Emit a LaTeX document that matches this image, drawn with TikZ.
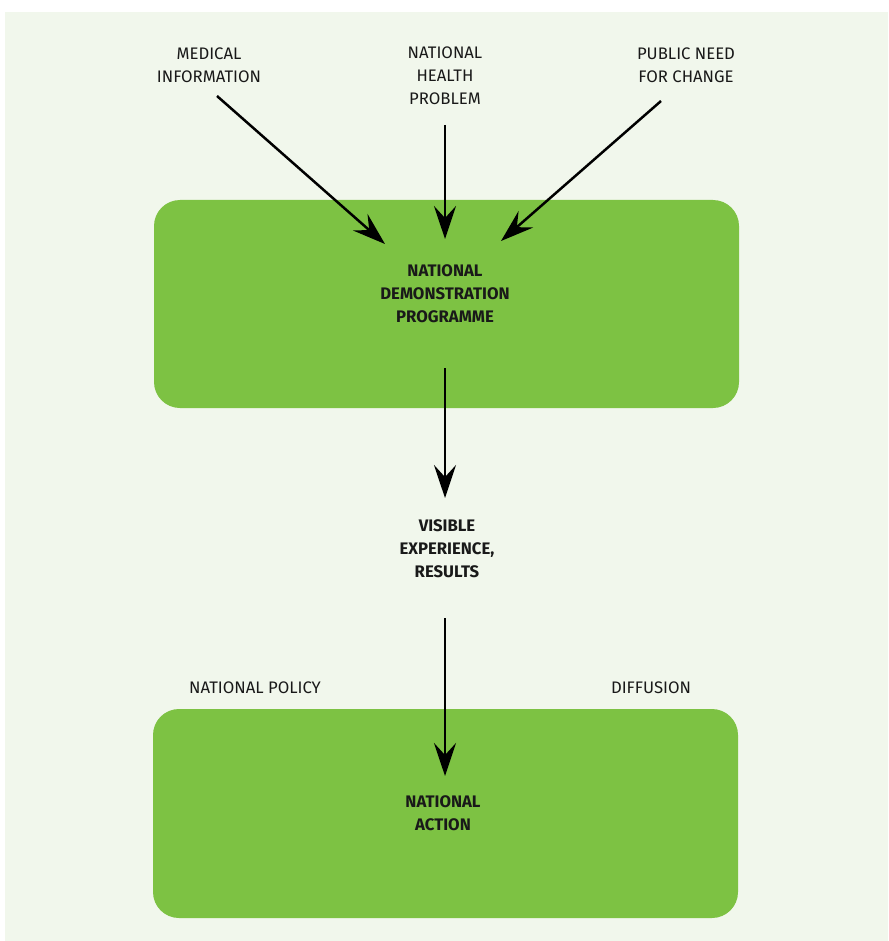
\documentclass[tikz,border=0pt]{standalone}
\usepackage{fontspec}
\setmainfont{Fira Sans}
\usetikzlibrary{arrows.meta}
\definecolor{bgpanel}{HTML}{F1F7EC}
\definecolor{boxgreen}{HTML}{7DC243}
\tikzset{
  lbl/.style={align=center, font=\fontsize{16.7}{23}\selectfont, inner sep=0pt, text=black!90},
  blbl/.style={lbl, font=\fontsize{16.7}{23}\selectfont\bfseries},
  gbox/.style={fill=boxgreen, draw=none, rounded corners=26pt, inner sep=0pt},
  arr/.style={-{Stealth[length=33pt,width=22pt,inset=12pt]}, line width=2.5pt, black},
}
\begin{document}
\begin{tikzpicture}[x=1pt,y=-1pt]
\useasboundingbox (0,0) rectangle (888,941);
\fill[white] (0,0) rectangle (888,941);
\fill[bgpanel] (5,12) rectangle (888,941);
\node[gbox, minimum width=585pt, minimum height=208pt] (demo) at (446.5,304) {};
\node[gbox, minimum width=585pt, minimum height=209pt] (act) at (445.5,813.5) {};
\node[lbl] (med) at (209,65) {MEDICAL\\INFORMATION};
\node[lbl] (nhp) at (445,76) {NATIONAL\\HEALTH\\PROBLEM};
\node[lbl] (pub) at (686,65) {PUBLIC NEED\\FOR CHANGE};
\node[blbl] (demotxt) at (445,294) {NATIONAL\\DEMONSTRATION\\PROGRAMME};
\node[blbl] (vis) at (447,549) {VISIBLE\\EXPERIENCE,\\RESULTS};
\node[lbl] (pol) at (255,688) {NATIONAL POLICY};
\node[lbl] (dif) at (651,688) {DIFFUSION};
\node[blbl] (acttxt) at (443,813.5) {NATIONAL\\ACTION};
\coordinate (a1s) at (217,96);
\coordinate (a1e) at (385,244);
\coordinate (a2s) at (445,125);
\coordinate (a2e) at (445,239);
\coordinate (a3s) at (661,101);
\coordinate (a3e) at (501,241);
\coordinate (a4s) at (445,368);
\coordinate (a4e) at (445,498);
\coordinate (a5s) at (445,618);
\coordinate (a5e) at (445,776);
\draw[arr] (a1s) -- (a1e);
\draw[arr] (a2s) -- (a2e);
\draw[arr] (a3s) -- (a3e);
\draw[arr] (a4s) -- (a4e);
\draw[arr] (a5s) -- (a5e);
\end{tikzpicture}
\end{document}
